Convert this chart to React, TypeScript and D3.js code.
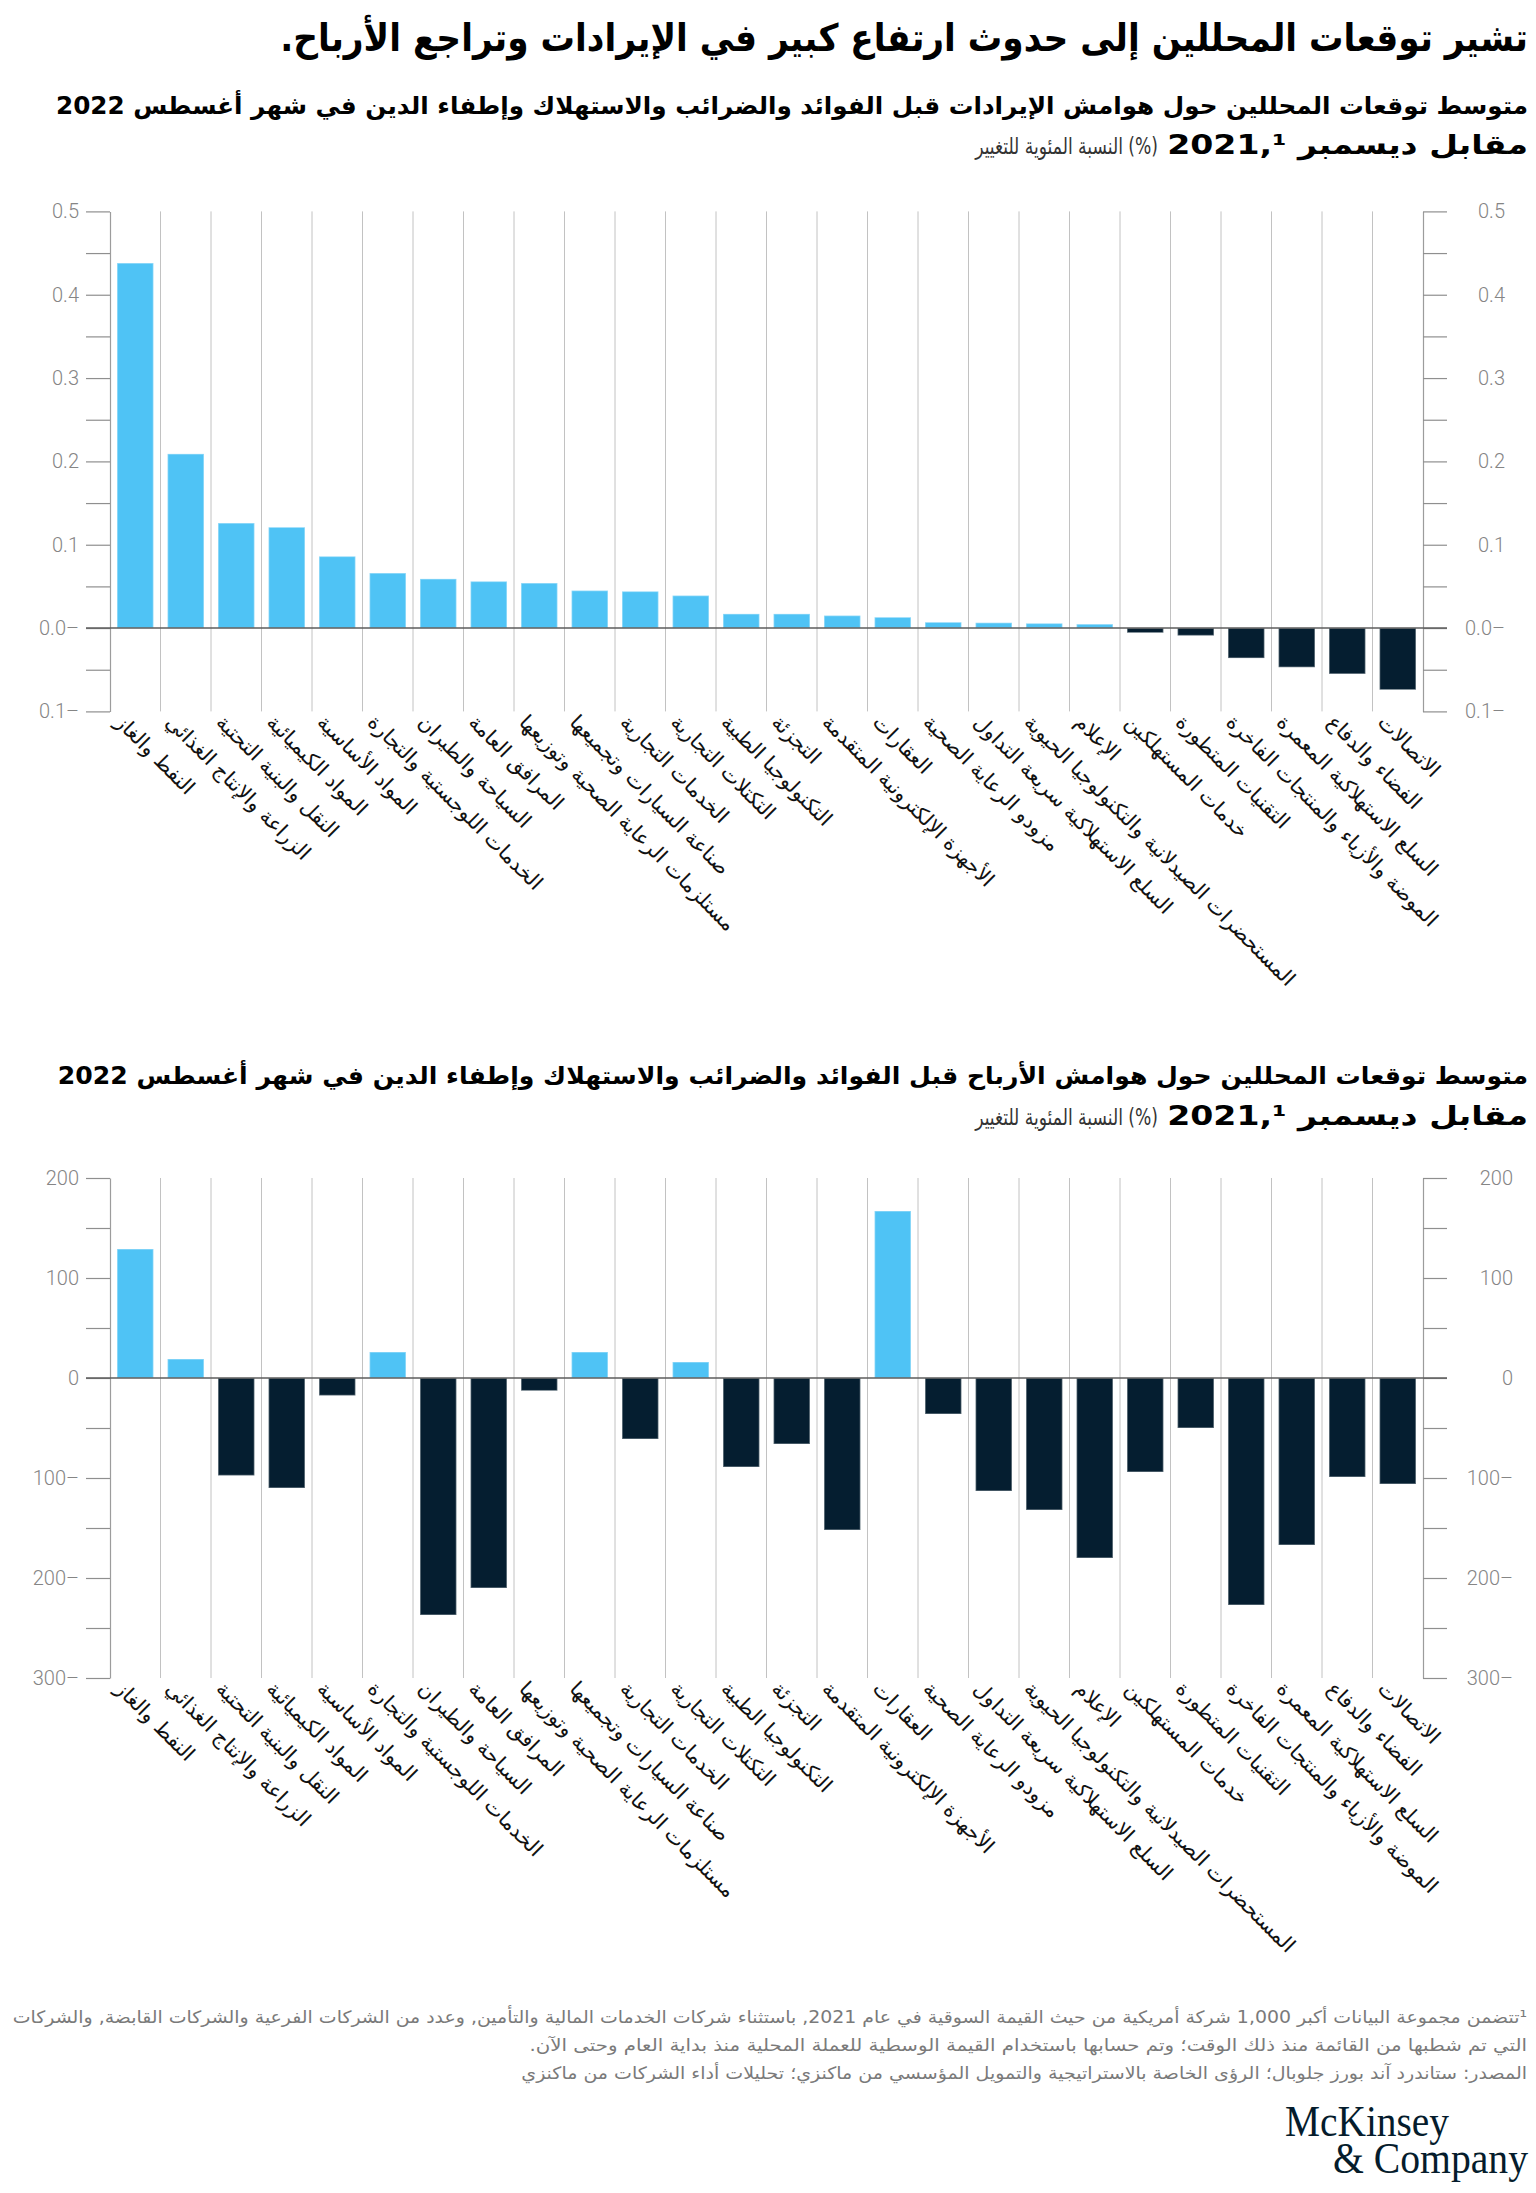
import { useEffect, useRef } from 'react';
import * as d3 from 'd3';

const SECTORS = [
  'النفط والغاز',
  'الزراعة والإنتاج الغذائي',
  'النقل والبنية التحتية',
  'المواد الكيميائية',
  'المواد الأساسية',
  'الخدمات اللوجستية والتجارة',
  'السياحة والطيران',
  'المرافق العامة',
  'مستلزمات الرعاية الصحية وتوزيعها',
  'صناعة السيارات وتجميعها',
  'الخدمات التجارية',
  'التكتلات التجارية',
  'التكنولوجيا الطبية',
  'التجزئة',
  'الأجهزة الإلكترونية المتقدمة',
  'العقارات',
  'مزودو الرعاية الصحية',
  'السلع الاستهلاكية سريعة التداول',
  'المستحضرات الصيدلانية والتكنولوجيا الحيوية',
  'الإعلام',
  'خدمات المستهلكين',
  'التقنيات المتطورة',
  'الموضة والأزياء والمنتجات الفاخرة',
  'السلع الاستهلاكية المعمرة',
  'الفضاء والدفاع',
  'الاتصالات',
];

// revenue margin change, % change
const REVENUE_CHANGE = [
  0.438, 0.209, 0.126, 0.121, 0.086, 0.066, 0.059, 0.056, 0.054, 0.045, 0.044, 0.039, 0.017,
  0.017, 0.015, 0.013, 0.007, 0.0064, 0.0056, 0.0047, -0.0056, -0.009, -0.036, -0.047, -0.055, -0.074,
];

// EBITDA margin change, % change
const EBITDA_CHANGE = [
  129, 19, -97.5, -110, -17.5, 26, -237, -210, -12.7, 26, -61, 16, -89,
  -66, -152, 167, -36, -113, -132, -180, -94, -50, -227, -167, -99, -106,
];

const REVENUE_TICKS = [0.5, 0.4, 0.3, 0.2, 0.1, 0, -0.1];
const REVENUE_TICK_LABELS = ['0.5', '0.4', '0.3', '0.2', '0.1', '0.0–', '0.1–'];
const EBITDA_TICKS = [200, 100, 0, -100, -200, -300];
const EBITDA_TICK_LABELS = ['200', '100', '0', '100–', '200–', '300–'];

const TITLE = 'تشير توقعات المحللين إلى حدوث ارتفاع كبير في الإيرادات وتراجع الأرباح.';
const REVENUE_HEADING = 'متوسط توقعات المحللين حول هوامش الإيرادات قبل الفوائد والضرائب والاستهلاك وإطفاء الدين في شهر أغسطس 2022';
const EBITDA_HEADING = 'متوسط توقعات المحللين حول هوامش الأرباح قبل الفوائد والضرائب والاستهلاك وإطفاء الدين في شهر أغسطس 2022';
const HEADING_BOLD = 'مقابل ديسمبر 2021,¹';
const HEADING_UNIT = '(%) النسبة المئوية للتغيير';
const FOOTNOTES = [
  '¹تتضمن مجموعة البيانات أكبر 1,000 شركة أمريكية من حيث القيمة السوقية في عام 2021, باستثناء شركات الخدمات المالية والتأمين, وعدد من الشركات الفرعية والشركات القابضة, والشركات',
  'التي تم شطبها من القائمة منذ ذلك الوقت؛ وتم حسابها باستخدام القيمة الوسطية للعملة المحلية منذ بداية العام وحتى الآن.',
  'المصدر: ستاندرد آند بورز جلوبال؛ الرؤى الخاصة بالاستراتيجية والتمويل المؤسسي من ماكنزي؛ تحليلات أداء الشركات من ماكنزي',
];

const BLUE = '#4fc3f5';
const NAVY = '#051e30';
const AR_FONT = "'DejaVu Sans', sans-serif";
const NUM_FONT = "Roboto, 'Open Sans', sans-serif";

const X0 = 110;
const X1 = 1423;
const RIGHT = 1528;

type Svg = d3.Selection<SVGSVGElement, unknown, null, undefined>;

type Panel = {
  values: number[];
  ticks: number[];
  labels: string[];
  top: number;
  bottom: number;
  rightLabelEnd: number;
};

function drawPanel(svg: Svg, p: Panel) {
  const domain = d3.extent(p.ticks) as [number, number];
  const y = d3.scaleLinear().domain(domain).range([p.bottom, p.top]);
  const x = d3.scaleBand<string>().domain(SECTORS).range([X0, X1]).paddingInner(0.28).paddingOuter(0.14);
  const step = x.step();
  const colStart = (s: string) => (x(s) || 0) - x.paddingInner() * step / 2;

  const g = svg.append('g');

  // minor ticks halfway between labelled ones
  const minor = p.ticks.slice(1).map((t, i) => (t + p.ticks[i]) / 2);
  const labelOf = new Map(p.ticks.map((t, i) => [t, p.labels[i]]));
  const fmt = (v: d3.NumberValue) => labelOf.get(+v) ?? '';

  // column separators
  g.selectAll('.sep')
    .data(SECTORS.slice(1))
    .enter()
    .append('line')
    .attr('x1', d => colStart(d))
    .attr('x2', d => colStart(d))
    .attr('y1', p.top)
    .attr('y2', p.bottom)
    .attr('stroke', '#c2c2c2')
    .attr('stroke-width', 1);

  const styleAxis = (a: d3.Selection<SVGGElement, unknown, null, undefined>) => {
    a.select('.domain').attr('stroke', '#9c9c9c').attr('stroke-width', 1.2);
    a.selectAll('.tick line').attr('stroke', '#8f8f8f').attr('stroke-width', 1.2);
    a.selectAll('.tick text')
      .attr('fill', '#858585')
      .attr('font-family', NUM_FONT)
      .attr('font-weight', 300)
      .attr('font-size', 20);
  };

  const left = g.append('g')
    .attr('transform', `translate(${X0},0)`)
    .call(d3.axisLeft(y).tickValues([...p.ticks, ...minor]).tickSize(24).tickSizeOuter(0).tickPadding(7).tickFormat(fmt));
  styleAxis(left);

  const right = g.append('g')
    .attr('transform', `translate(${X1},0)`)
    .call(d3.axisRight(y).tickValues([...p.ticks, ...minor]).tickSize(24).tickSizeOuter(0).tickFormat(fmt));
  styleAxis(right);
  right.selectAll('.tick text').attr('text-anchor', 'end').attr('x', p.rightLabelEnd - X1);

  // bars
  g.selectAll('.bar')
    .data(p.values)
    .enter()
    .append('rect')
    .attr('x', (_, i) => x(SECTORS[i]) || 0)
    .attr('width', x.bandwidth())
    .attr('y', d => y(Math.max(0, d)))
    .attr('height', d => Math.abs(y(d) - y(0)))
    .attr('fill', d => (d >= 0 ? BLUE : NAVY))
    .attr('stroke', '#ffffff')
    .attr('stroke-opacity', 0.35)
    .attr('stroke-width', 1.5);

  // zero line
  g.append('line')
    .attr('x1', X0 - 24)
    .attr('x2', X1 + 24)
    .attr('y1', y(0))
    .attr('y2', y(0))
    .attr('stroke', '#5c5c5c')
    .attr('stroke-width', 1.5);

  // category labels
  g.selectAll('.cat')
    .data(SECTORS)
    .enter()
    .append('text')
    .attr('transform', d => `translate(${colStart(d) + 4},${p.bottom + 12}) rotate(45)`)
    .attr('text-anchor', 'start')
    .attr('font-family', AR_FONT)
    .attr('font-size', 20.5)
    .attr('fill', '#111')
    .text(d => d);
}

// right-aligned arabic line, squeezed/stretched horizontally to a measured width
function rtlText(
  svg: Svg, txt: string, xRight: number, yBase: number, width: number,
  size: number, weight: number, fill: string,
) {
  const t = svg.append('text')
    .attr('x', 0)
    .attr('y', 0)
    .attr('direction', 'rtl')
    .attr('text-anchor', 'start')
    .attr('font-family', AR_FONT)
    .attr('font-size', size)
    .attr('font-weight', weight)
    .attr('fill', fill)
    .text(txt);
  const natural = (t.node() as SVGTextElement).getComputedTextLength() || width;
  t.attr('transform', `translate(${xRight},${yBase}) scale(${width / natural},1)`);
}

export default function App() {
  const svgRef = useRef<SVGSVGElement>(null);

  useEffect(() => {
    if (!svgRef.current) return;
    const svg = d3.select(svgRef.current);
    svg.selectAll('*').remove();

    rtlText(svg, TITLE, RIGHT, 51, 1248, 38, 700, '#000');

    rtlText(svg, REVENUE_HEADING, RIGHT, 114, 1473, 24, 700, '#000');
    rtlText(svg, HEADING_BOLD, RIGHT, 154, 361, 27, 700, '#000');
    rtlText(svg, HEADING_UNIT, 1158, 154, 183, 23, 400, '#333');

    rtlText(svg, EBITDA_HEADING, RIGHT, 1084, 1471, 24, 700, '#000');
    rtlText(svg, HEADING_BOLD, RIGHT, 1125, 361, 27, 700, '#000');
    rtlText(svg, HEADING_UNIT, 1158, 1125, 183, 23, 400, '#333');

    drawPanel(svg, {
      values: REVENUE_CHANGE,
      ticks: REVENUE_TICKS,
      labels: REVENUE_TICK_LABELS,
      top: 211.4,
      bottom: 711.4,
      rightLabelEnd: 1505,
    });

    drawPanel(svg, {
      values: EBITDA_CHANGE,
      ticks: EBITDA_TICKS,
      labels: EBITDA_TICK_LABELS,
      top: 1178,
      bottom: 1678,
      rightLabelEnd: 1513,
    });

    // footnotes
    const noteWidths = [1515, 998, 1007];
    FOOTNOTES.forEach((t, i) => {
      rtlText(svg, t, 1527, 2023 + i * 28, noteWidths[i], 17, 400, '#7a7a7a');
    });

    // logo
    const logo = svg.append('g')
      .attr('font-family', "'Liberation Serif', 'DejaVu Serif', serif")
      .attr('font-size', 44)
      .attr('fill', '#051c2c');
    logo.append('text').attr('x', 1285).attr('y', 2136)
      .attr('textLength', 164).attr('lengthAdjust', 'spacingAndGlyphs').text('McKinsey');
    logo.append('text').attr('x', 1333).attr('y', 2173)
      .attr('textLength', 195).attr('lengthAdjust', 'spacingAndGlyphs').text('& Company');
  }, []);

  return (
    <svg
      ref={svgRef}
      width={1536}
      height={2193}
      style={{ position: 'absolute', left: 0, top: 0, background: '#fff' }}
    />
  );
}
